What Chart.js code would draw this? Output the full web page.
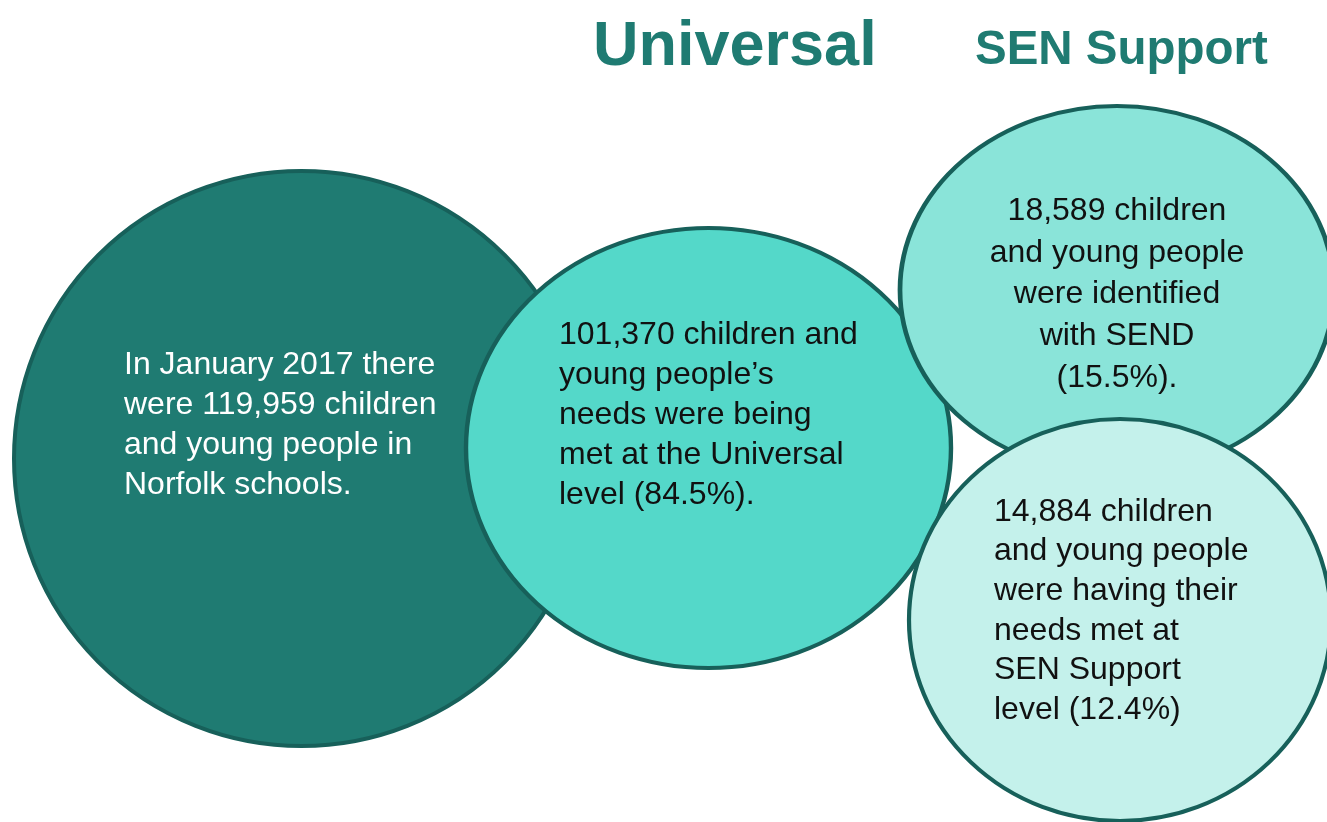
<!DOCTYPE html>
<html>
<head>
<meta charset="utf-8">
<script src="https://cdn.jsdelivr.net/npm/chart.js@4/dist/chart.umd.min.js"></script>
<style>
  html, body { margin: 0; padding: 0; background: #fff; }
  #wrap { position: relative; width: 1327px; height: 822px; overflow: hidden; }
</style>
</head>
<body>
<div id="wrap"><canvas id="bubbles" width="1327" height="822"></canvas></div>
<script>
// bubble centres and radii (canvas units), bottom to top
const bubbleNames = ["Norfolk schools", "Universal", "SEND identified", "SEN Support"];
const centerX = [301.5, 708.5, 1117, 1120];
const centerY = [458.5, 448, 290, 620];
const radiusX = [287.5, 242.5, 217, 211];
const radiusY = [287.5, 220, 184, 201];

const bubbleText = [
  ["In January 2017 there", "were 119,959 children", "and young people in", "Norfolk schools."],
  ["101,370 children and", "young people\u2019s", "needs were being", "met at the Universal", "level (84.5%)."],
  ["18,589 children", "and young people", "were identified", "with SEND", "(15.5%)."],
  ["14,884 children", "and young people", "were having their", "needs met at", "SEN Support", "level (12.4%)"]
];
const headings = ["Universal", "SEN Support"];

const fills = ["#1f7b72", "#54d8c9", "#8ae4d9", "#c4f1eb"];
const EDGE = "#17605a";
const HEAD = "#1f7b72";

// text block layout relative to each bubble centre
const textLayout = [
  { dx: -177.5, dy: -93.5, lh: 40, align: "left", color: "#ffffff" },
  { dx: -149.5, dy: -113, lh: 40, align: "left", color: "#111111" },
  { dx: 0, dy: -79, lh: 41.75, align: "center", color: "#111111" },
  { dx: -126, dy: -108, lh: 39.6, align: "left", color: "#111111" }
];

// stretch each bubble into an ellipse around its own centre
const ellipsePlugin = {
  id: "ellipse",
  beforeDatasetDraw(chart, args) {
    const el = args.meta.data[0];
    const i = args.index;
    const ctx = chart.ctx;
    ctx.save();
    ctx.translate(el.x, el.y);
    ctx.scale(radiusX[i] / radiusY[i], 1);
    ctx.translate(-el.x, -el.y);
  },
  afterDatasetDraw(chart) {
    chart.ctx.restore();
  }
};

const labelPlugin = {
  id: "labels",
  afterDatasetsDraw(chart) {
    const ctx = chart.ctx;
    ctx.save();
    ctx.textBaseline = "middle";
    ctx.font = "32px 'Liberation Sans', Arial, sans-serif";
    bubbleText.forEach((lines, i) => {
      const el = chart.getDatasetMeta(i).data[0];
      const t = textLayout[i];
      ctx.fillStyle = t.color;
      ctx.textAlign = t.align;
      lines.forEach((s, k) => ctx.fillText(s, el.x + t.dx, el.y + t.dy + k * t.lh));
    });
    // column headings
    ctx.fillStyle = HEAD;
    ctx.textBaseline = "alphabetic";
    ctx.textAlign = "left";
    ctx.font = "bold 63px 'Liberation Sans', Arial, sans-serif";
    ctx.fillText(headings[0], 593, 65);
    ctx.font = "bold 47.5px 'Liberation Sans', Arial, sans-serif";
    ctx.fillText(headings[1], 975, 64);
    ctx.restore();
  }
};

new Chart(document.getElementById("bubbles"), {
  type: "bubble",
  data: {
    datasets: bubbleNames.map((name, i) => ({
      label: name,
      data: [{ x: centerX[i], y: centerY[i], r: radiusY[i] }],
      backgroundColor: fills[i],
      borderColor: EDGE,
      borderWidth: 4,
      hoverRadius: 0,
      clip: false,
      order: bubbleNames.length - i
    }))
  },
  options: {
    responsive: false,
    animation: false,
    events: [],
    layout: { padding: 0, autoPadding: false },
    scales: {
      x: { display: false, min: 0, max: 1327 },
      y: { display: false, min: 0, max: 822, reverse: true }
    },
    plugins: {
      legend: { display: false },
      tooltip: { enabled: false }
    }
  },
  plugins: [ellipsePlugin, labelPlugin]
});
</script>
</body>
</html>
